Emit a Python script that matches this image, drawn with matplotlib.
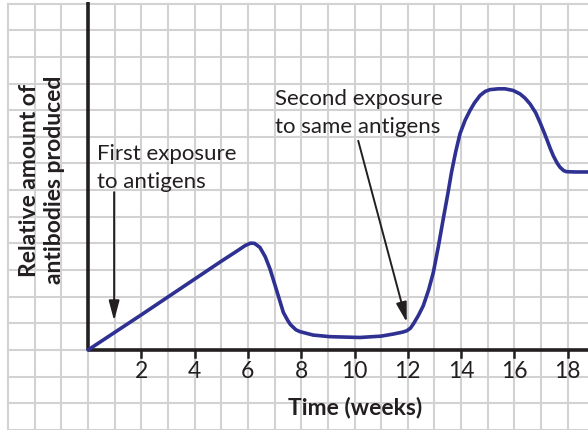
import numpy as np
import matplotlib
matplotlib.use("Agg")
import matplotlib.pyplot as plt

plt.rcParams['font.family'] = ['Lato', 'DejaVu Sans']

# antibody response curve (weeks, relative amount in grid units)
weeks = [0, 2, 4, 5, 5.6, 5.9, 6.1, 6.25, 6.45, 6.65, 6.83, 7.08, 7.33, 7.5,
         7.6, 7.8, 7.95, 8.45, 9.08, 10.2, 11.0, 11.46, 11.8, 11.96, 12.1,
         12.21, 12.4, 12.58, 12.78, 12.96, 13.15, 13.33, 13.5, 13.64, 13.8,
         13.96, 14.15, 14.33, 14.5, 14.71, 14.9, 15.08, 15.4, 15.65, 15.95,
         16.21, 16.4, 16.59, 16.8, 16.96, 17.1, 17.21, 17.35, 17.46, 17.6,
         17.71, 17.85, 17.96, 18.3, 18.8]
amount = [0, 1.32, 2.66, 3.33, 3.72, 3.92, 4.01, 4.0, 3.85, 3.5, 3.04, 2.23,
          1.41, 1.1, 0.95, 0.76, 0.69, 0.56, 0.5, 0.47, 0.52, 0.6, 0.67, 0.72,
          0.82, 0.98, 1.3, 1.66, 2.25, 2.92, 3.9, 4.92, 5.85, 6.67, 7.45, 8.12,
          8.62, 8.98, 9.27, 9.55, 9.7, 9.77, 9.8, 9.8, 9.74, 9.61, 9.45, 9.23,
          8.9, 8.54, 8.2, 7.92, 7.55, 7.29, 7.02, 6.86, 6.73, 6.69, 6.68, 6.68]

tick_weeks = [2, 4, 6, 8, 10, 12, 14, 16, 18]

# arrow labels: text lines, text position, arrow start, arrow tip
first_lines = ["First exposure", "to antigens"]
first_text_xy = (0.34, 7.17)
first_arrow = ((0.98, 5.92), (0.98, 1.1))
second_lines = ["Second exposure", "to same antigens"]
second_text_xy = (7.02, 9.23)
second_arrow = ((10.14, 7.85), (11.96, 1.04))

grid_c = '#d2d2d2'
ink = '#231f20'
curve_c = '#2e3192'
line_step = 28 / 26.65

fig = plt.figure(figsize=(5.88, 4.31), dpi=100)
ax = fig.add_axes([0, 0, 1, 1])
ax.set_xlim(-88 / 26.65, 500 / 26.65)
ax.set_ylim(-80 / 26.65, 351 / 26.65)
ax.axis('off')

# graph paper
for gx in range(-3, 19):
    ax.plot([gx, gx], [-3.5, 13], color=grid_c, lw=1.5, zorder=1)
for gy in range(-3, 14):
    ax.plot([-3, 19], [gy, gy], color=grid_c, lw=1.5, zorder=1)

# axes
ax.plot([0, 0], [0, 13.05], color=ink, lw=2.6, zorder=3, solid_capstyle='butt')
ax.plot([0, 19], [0, 0], color=ink, lw=2.6, zorder=3, solid_capstyle='butt')
for t in tick_weeks:
    ax.plot([t, t], [0, -0.25], color=ink, lw=1.8, zorder=3)
    ax.text(t, -0.76, str(t), ha='center', va='center', fontsize=16.5, color=ink)

ax.plot(weeks, amount, color=curve_c, lw=2.6, zorder=4,
        solid_joinstyle='round', solid_capstyle='round')

for lines, (tx, ty), (start, tip) in [(first_lines, first_text_xy, first_arrow),
                                      (second_lines, second_text_xy, second_arrow)]:
    for i, s in enumerate(lines):
        ax.text(tx, ty - i * line_step, s, ha='left', va='baseline',
                fontsize=16, color=ink)
    ax.annotate('', xy=tip, xytext=start,
                arrowprops=dict(arrowstyle='-|>,head_length=0.6,head_width=0.16',
                                mutation_scale=20, color=ink, lw=1.4,
                                shrinkA=0, shrinkB=0), zorder=5)

ax.text(355 / 26.65 - 88 / 26.65, (351 - 408) / 26.65, 'Time (weeks)',
        ha='center', va='center', fontsize=16.5, fontweight='bold', color=ink)
ax.text(-46 / 26.65, (351 - 180) / 26.65, 'Relative amount of\nantibodies produced',
        ha='center', va='center', rotation=90, fontsize=16.5, fontweight='bold',
        color=ink, linespacing=1.2)

fig.savefig('out.png', dpi=100)
